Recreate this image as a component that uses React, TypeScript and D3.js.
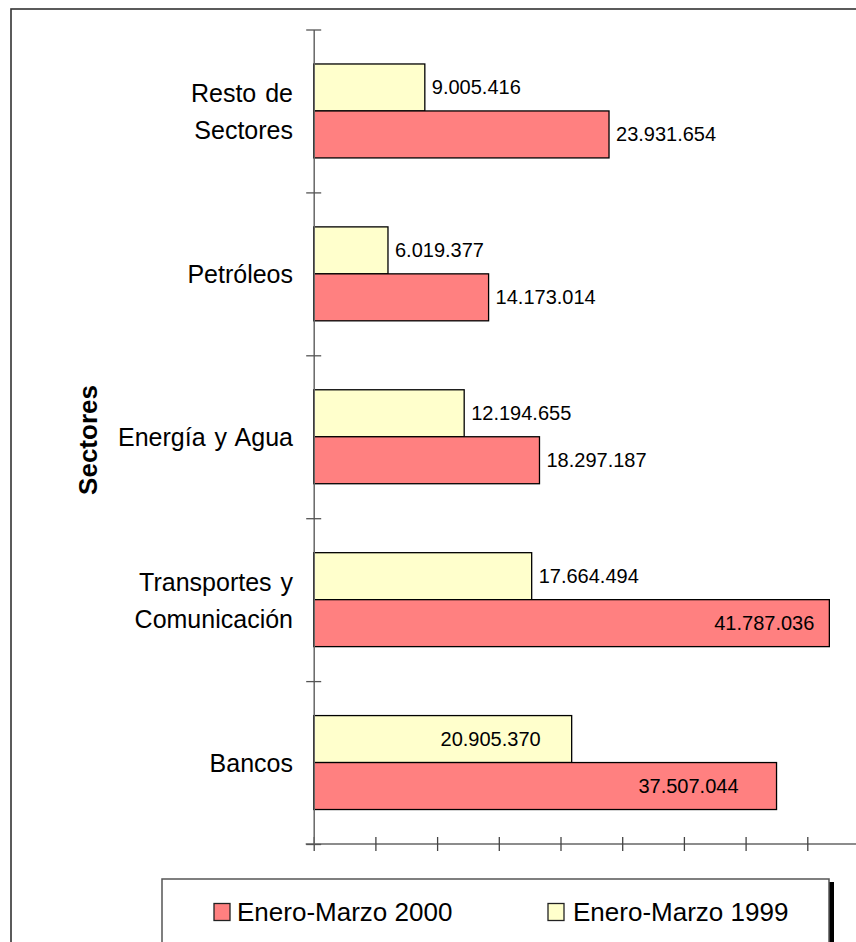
import React, { useEffect, useRef } from 'react';
import * as d3 from 'd3';

// sectors, top to bottom as drawn
const sectors = ['Resto de Sectores', 'Petróleos', 'Energía y Agua', 'Transportes y Comunicación', 'Bancos'];
const sectorLines = [['Resto de', 'Sectores'], ['Petróleos'], ['Energía y Agua'], ['Transportes y', 'Comunicación'], ['Bancos']];

const series = ['Enero-Marzo 1999', 'Enero-Marzo 2000'];
const values1999 = [9005416, 6019377, 12194655, 17664494, 20905370];
const values2000 = [23931654, 14173014, 18297187, 41787036, 37507044];

const xTicks = [0, 5e6, 10e6, 15e6, 20e6, 25e6, 30e6, 35e6, 40e6, 45e6, 50e6];
const legendOrder = ['Enero-Marzo 2000', 'Enero-Marzo 1999'];

const App = () => {
  const svgRef = useRef(null);

  useEffect(() => {
    const svg = d3.select(svgRef.current);
    svg.selectAll('*').remove();

    const width = 856;
    const plotLeft = 313.7;
    const plotTop = 29.5;
    const plotBottom = 844;

    const colors = { 'Enero-Marzo 1999': '#FFFFCC', 'Enero-Marzo 2000': '#FF8080' };
    const font = '"Liberation Sans", Arial, sans-serif';

    // labels drawn inside the bar end, with their inset
    const insideLabels = {
      'Transportes y Comunicación|Enero-Marzo 2000': 15,
      'Bancos|Enero-Marzo 2000': 38,
      'Bancos|Enero-Marzo 1999': 31,
    };

    const rows = sectors.map((s, i) => ({
      sector: s,
      lines: sectorLines[i],
      vals: { 'Enero-Marzo 1999': values1999[i], 'Enero-Marzo 2000': values2000[i] },
    }));

    const fmt = d3.formatLocale({ decimal: ',', thousands: '.', grouping: [3], currency: ['', ''] }).format(',d');

    const x = d3.scaleLinear([0, 50e6], [plotLeft, plotLeft + 617]);
    const y0 = d3.scaleBand(sectors, [plotTop, plotBottom]);
    const y1 = d3.scaleBand(series, [0, y0.bandwidth()]).paddingInner(0).paddingOuter(0.734);
    const yIdx = d3.scaleLinear([0, sectors.length], [plotTop, plotBottom]);

    // outer chart frame
    svg.append('rect')
      .attr('x', 11).attr('y', 9)
      .attr('width', 1000).attr('height', 1100)
      .attr('fill', '#fff')
      .attr('stroke', '#333').attr('stroke-width', 1.6);

    // bars
    const group = svg.append('g')
      .selectAll('g')
      .data(rows)
      .join('g')
      .attr('transform', d => `translate(0,${y0(d.sector)})`);

    group.selectAll('rect')
      .data(d => series.map(k => ({ sector: d.sector, key: k, value: d.vals[k] })))
      .join('rect')
      .attr('x', x(0))
      .attr('y', d => y1(d.key))
      .attr('width', d => x(d.value) - x(0))
      .attr('height', y1.bandwidth())
      .attr('fill', d => colors[d.key])
      .attr('stroke', '#000')
      .attr('stroke-width', 1.3);

    group.selectAll('text')
      .data(d => series.map(k => ({ sector: d.sector, key: k, value: d.vals[k] })))
      .join('text')
      .attr('x', d => {
        const inset = insideLabels[`${d.sector}|${d.key}`];
        return inset !== undefined ? x(d.value) - inset : x(d.value) + 7;
      })
      .attr('y', d => y1(d.key) + y1.bandwidth() / 2)
      .attr('dy', '0.33em')
      .attr('text-anchor', d => (insideLabels[`${d.sector}|${d.key}`] !== undefined ? 'end' : 'start'))
      .attr('font-family', font)
      .attr('font-size', 20)
      .attr('fill', '#000')
      .text(d => fmt(d.value));

    // x axis, crossing ticks, no labels
    svg.append('g')
      .attr('transform', `translate(0,${plotBottom})`)
      .call(d3.axisBottom(x).tickValues(xTicks).tickSizeOuter(0).tickFormat(() => ''))
      .call(g => g.select('.domain').attr('d', `M${plotLeft - 8},0H${width + 10}`).attr('stroke', '#666').attr('stroke-width', 1.5))
      .call(g => g.selectAll('.tick line').attr('y1', -7).attr('y2', 7).attr('stroke', '#444').attr('stroke-width', 1.3));

    // y axis, ticks at band edges
    svg.append('g')
      .attr('transform', `translate(${plotLeft},0)`)
      .call(d3.axisLeft(yIdx).tickValues(d3.range(sectors.length + 1)).tickSizeOuter(0).tickFormat(() => ''))
      .call(g => g.select('.domain').attr('stroke', '#666').attr('stroke-width', 1.5))
      .call(g => g.selectAll('.tick line').attr('x1', -7.5).attr('x2', 7.5).attr('stroke', '#555').attr('stroke-width', 1.3));

    // category labels
    const catLabels = svg.append('g')
      .selectAll('text')
      .data(rows)
      .join('text')
      .attr('text-anchor', 'end')
      .attr('font-family', font)
      .attr('font-size', 25)
      .attr('word-spacing', 2)
      .attr('fill', '#000');

    catLabels.selectAll('tspan')
      .data(d => d.lines.map((l, i) => ({ l, i, n: d.lines.length, c: y0(d.sector) + y0.bandwidth() / 2 })))
      .join('tspan')
      .attr('x', 293)
      .attr('y', d => d.c + (d.i - (d.n - 1) / 2) * 37)
      .attr('dy', '0.38em')
      .text(d => d.l);

    // axis title
    svg.append('text')
      .attr('transform', 'translate(97,440) rotate(-90)')
      .attr('text-anchor', 'middle')
      .attr('font-family', font)
      .attr('font-size', 26)
      .attr('font-weight', 'bold')
      .text('Sectores');

    // legend
    const legend = svg.append('g');
    legend.append('rect')
      .attr('x', 829).attr('y', 882)
      .attr('width', 5).attr('height', 100)
      .attr('fill', '#000');
    legend.append('rect')
      .attr('x', 162).attr('y', 879)
      .attr('width', 667).attr('height', 120)
      .attr('fill', '#fff')
      .attr('stroke', '#555').attr('stroke-width', 1.5);

    const item = legend.selectAll('g.item')
      .data(legendOrder)
      .join('g')
      .attr('class', 'item')
      .attr('transform', (d, i) => `translate(${214 + i * 334},0)`);

    item.append('rect')
      .attr('x', 0).attr('y', 903.5)
      .attr('width', 16).attr('height', 17)
      .attr('fill', d => colors[d])
      .attr('stroke', '#222').attr('stroke-width', 1.3);

    item.append('text')
      .attr('x', (d, i) => (i === 0 ? 23 : 25))
      .attr('y', 921)
      .attr('font-family', font)
      .attr('font-size', 26)
      .attr('fill', '#000')
      .text(d => d);
  }, []);

  return (
    <svg
      ref={svgRef}
      width={856}
      height={942}
      viewBox="0 0 856 942"
      style={{ position: 'absolute', left: 0, top: 0, background: '#fff' }}
    />
  );
};

export default App;
